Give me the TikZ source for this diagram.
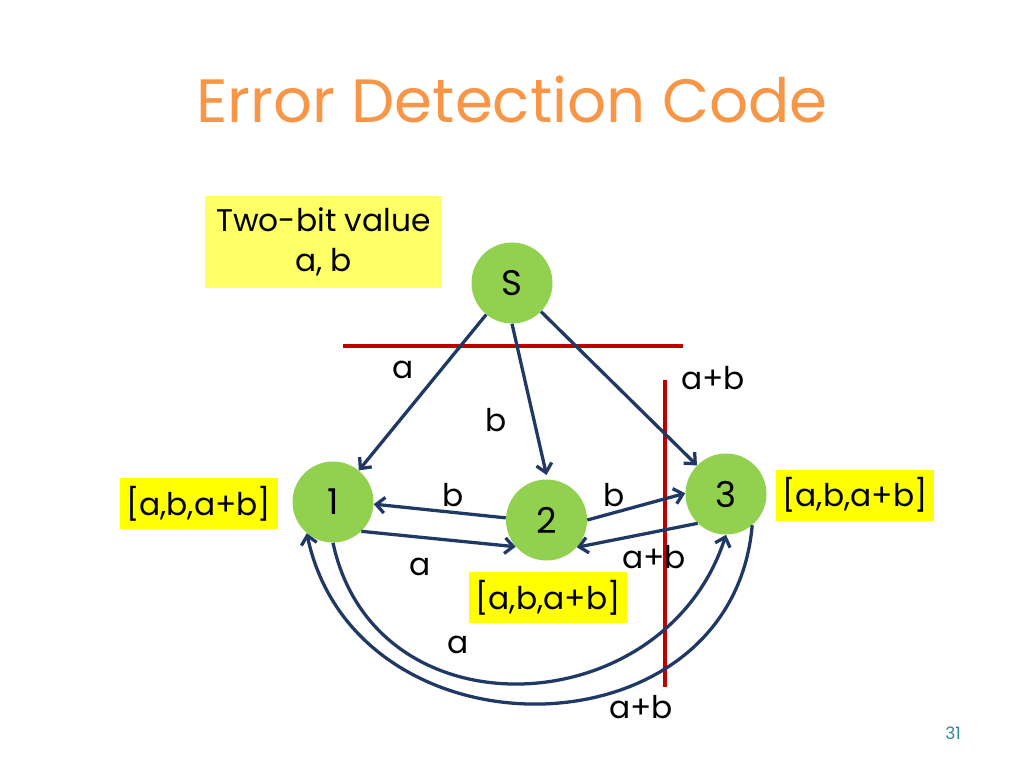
\documentclass[tikz,border=0pt]{standalone}
\usepackage{fontspec}
\setmainfont{Poppins}
\usetikzlibrary{arrows.meta}
\definecolor{nodegreen}{RGB}{146,208,80}
\definecolor{arrowblue}{RGB}{31,56,100}
\definecolor{cutred}{RGB}{192,0,0}
\definecolor{titleorange}{RGB}{247,150,70}
\definecolor{boxyellow}{RGB}{255,255,0}
\definecolor{paleyellow}{RGB}{255,255,102}
\definecolor{pagenum}{RGB}{49,133,156}
\tikzset{
  statenode/.style={circle, fill=nodegreen, minimum size=81pt*0.703125, inner sep=0pt, font=\fontsize{25}{28}\selectfont},
  conn/.style={draw=arrowblue, line width=2.3pt, -{Straight Barb[length=6pt,width=11pt,line width=2.3pt]}},
  cut/.style={draw=cutred, line width=2.3pt},
  lbl/.style={font=\fontsize{22}{26}\selectfont, inner sep=0pt},
  tagbox/.style={fill=boxyellow, font=\fontsize{22}{26}\selectfont, minimum width=158pt*0.703125, minimum height=51pt*0.703125, inner sep=0pt},
}
\begin{document}
\begin{tikzpicture}[x=0.703125pt, y=-0.703125pt]
\useasboundingbox (0,0) rectangle (1024,768);
% title
\node[text=titleorange, font=\fontsize{43}{50}\selectfont] (title) at (512,100) {Error Detection Code};
% info box
\node[fill=paleyellow, minimum width=237pt*0.703125, minimum height=92pt*0.703125, align=center, font=\fontsize{22}{28}\selectfont, inner sep=0pt] (info) at (323.5,242) {Two-bit value\\a, b};
% cut lines
\coordinate (h1) at (343,346);
\coordinate (h2) at (683,346);
\coordinate (v1) at (665,380);
\coordinate (v2) at (665,687);
\draw[cut] (h1) -- (h2);
\draw[cut] (v1) -- (v2);
% nodes
\node[statenode] (S) at (512,283) {S};
\node[statenode] (n1) at (333,502) {1};
\node[statenode] (n2) at (546.5,520) {2};
\node[statenode] (n3) at (726,494) {3};
% tags
\node[tagbox] (t1) at (198.5,503.5) {[a,b,a+b]};
\node[tagbox] (t3) at (855,495) {[a,b,a+b]};
\node[tagbox] (t2) at (548,597.5) {[a,b,a+b]};
% connectors
\draw[conn] (S) -- (n1);
\draw[conn] (S.south) -- ([yshift=3pt]n2.north);
\draw[conn] (S) -- (n3);
\draw[conn] (n2.177) -- (n1.-3);
\draw[conn] (n1.-46) -- (n2.-139);
\draw[conn] (n2.0) -- (n3.179);
\draw[conn] (n3.-134) -- (n2.-42);
\draw[conn] (n1.south) to[out=-78, in=-108, looseness=1.3] (n3.south);
\draw[conn] (n3.-50) to[out=-95, in=-78, looseness=1.35] (n1.230);
% labels
\node[lbl] (la) at (403,370) {a};
\node[lbl] (lb) at (496,420) {b};
\node[lbl] (lab) at (713,378) {a+b};
\node[lbl] (lb21) at (453,495) {b};
\node[lbl] (lb23) at (614,495) {b};
\node[lbl] (la12) at (420,567) {a};
\node[lbl] (lab32) at (654,557) {a+b};
\node[lbl] (la13) at (458,645) {a};
\node[lbl] (lab31) at (641,707) {a+b};
% page number
\node[text=pagenum, font=\fontsize{12}{14}\selectfont] (pg) at (953,733) {31};
\end{tikzpicture}
\end{document}
